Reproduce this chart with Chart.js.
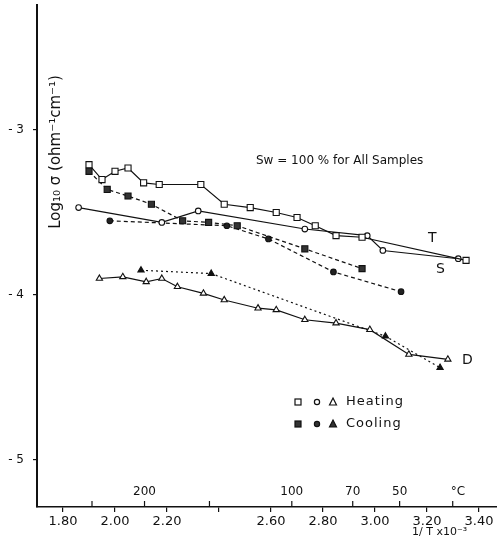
<!DOCTYPE html>
<html>
<head>
<meta charset="utf-8">
<script src="https://cdn.jsdelivr.net/npm/chart.js@4.4.0/dist/chart.umd.min.js"></script>
<style>
  html, body { margin: 0; padding: 0; background: #fff; }
  #wrap { width: 497px; height: 542px; }
</style>
</head>
<body>
<div id="wrap"><canvas id="chart" width="497" height="542"></canvas></div>
<script>
// 1/T x10^-3 (K^-1) and log10 sigma
var tHeatX = [1.90, 1.95, 2.00, 2.05, 2.11, 2.17, 2.33, 2.42, 2.52, 2.62, 2.70, 2.77, 2.85, 2.95, 3.35];
var tHeatY = [-3.21, -3.30, -3.25, -3.23, -3.32, -3.33, -3.33, -3.45, -3.47, -3.50, -3.53, -3.58, -3.64, -3.65, -3.79];

var sHeatX = [1.86, 2.18, 2.32, 2.73, 2.97, 3.03, 3.32];
var sHeatY = [-3.47, -3.56, -3.49, -3.60, -3.64, -3.73, -3.78];

var dHeatX = [1.94, 2.03, 2.12, 2.18, 2.24, 2.34, 2.42, 2.55, 2.62, 2.73, 2.85, 2.98, 3.13, 3.28];
var dHeatY = [-3.90, -3.89, -3.92, -3.90, -3.95, -3.99, -4.03, -4.08, -4.09, -4.15, -4.17, -4.21, -4.36, -4.39];

var tCoolX = [1.90, 1.97, 2.05, 2.14, 2.26, 2.36, 2.47, 2.73, 2.95];
var tCoolY = [-3.25, -3.36, -3.40, -3.45, -3.55, -3.56, -3.58, -3.72, -3.84];

var sCoolX = [1.98, 2.43, 2.59, 2.84, 3.10];
var sCoolY = [-3.55, -3.58, -3.66, -3.86, -3.98];

var dCoolX = [2.10, 2.37, 3.04, 3.25];
var dCoolY = [-3.85, -3.87, -4.25, -4.44];

var xTicks = [1.8, 2.0, 2.2, 2.4, 2.6, 2.8, 3.0, 3.2, 3.4];
var yTicks = [-5, -4, -3];
var tempTicks = [250, 200, 150, 100, 70, 50, 30];   // deg C marks above the axis
var tempLabels = ['', '200', '', '100', '70', '50', ''];

var FONT = '"DejaVu Sans", sans-serif';
var INK = '#111';

function pts(xs, ys) {
    return xs.map(function (x, i) { return { x: x, y: ys[i] }; });
}

function series(xs, ys, style, fill, radius, dash) {
    return {
        data: pts(xs, ys),
        showLine: true,
        borderColor: INK,
        borderWidth: 1.2,
        borderDash: dash,
        pointStyle: style,
        pointRadius: radius,
        pointBackgroundColor: fill,
        pointBorderColor: INK,
        pointBorderWidth: 1.1,
        tension: 0
    };
}

var notes = {
    id: 'notes',
    afterDraw: function (chart) {
        var ctx = chart.ctx;
        var xs = chart.scales.x;
        var bottom = chart.chartArea.bottom;
        ctx.save();
        ctx.fillStyle = INK;
        ctx.strokeStyle = INK;
        ctx.lineWidth = 1.2;

        // temperature scale sitting on top of the x axis
        ctx.font = '12px ' + FONT;
        ctx.textAlign = 'center';
        ctx.textBaseline = 'middle';
        tempTicks.forEach(function (t, i) {
            var px = xs.getPixelForValue(1000 / (t + 273.15));
            ctx.beginPath();
            ctx.moveTo(px, bottom);
            ctx.lineTo(px, bottom - 6);
            ctx.stroke();
            if (tempLabels[i]) ctx.fillText(tempLabels[i], px, bottom - 15);
        });
        ctx.fillText('°C', 458, bottom - 15);

        // x axis title
        ctx.textAlign = 'left';
        ctx.font = '11px ' + FONT;
        ctx.fillText('1/ T x10⁻³', 412, 532);

        // y axis title
        ctx.save();
        ctx.translate(56, 152);
        ctx.rotate(-Math.PI / 2);
        ctx.textAlign = 'center';
        ctx.font = '15px ' + FONT;
        ctx.fillText('Log₁₀ σ (ohm⁻¹cm⁻¹)', 0, 0);
        ctx.restore();

        ctx.font = '12px ' + FONT;
        ctx.textAlign = 'left';
        ctx.fillText('Sw = 100 % for All Samples', 256, 161);

        ctx.font = '14px ' + FONT;
        ctx.fillText('T', 428, 238);
        ctx.fillText('S', 436, 269);
        ctx.fillText('D', 462, 360);

        // legend
        ctx.font = '13px ' + FONT;
        ctx.letterSpacing = '1px';
        ctx.fillText('Heating', 346, 402);
        ctx.fillText('Cooling', 346, 424);
        ctx.letterSpacing = '0px';
        var rows = [[402, '#fff'], [424, '#333']];
        rows.forEach(function (r) {
            var y = r[0];
            ctx.fillStyle = r[1];
            ctx.fillRect(295, y - 3, 6, 6);
            ctx.strokeRect(295, y - 3, 6, 6);
            ctx.beginPath();
            ctx.arc(317, y, 2.6, 0, Math.PI * 2);
            ctx.fill();
            ctx.stroke();
            ctx.beginPath();
            ctx.moveTo(333, y - 4);
            ctx.lineTo(336.5, y + 3);
            ctx.lineTo(329.5, y + 3);
            ctx.closePath();
            ctx.fill();
            ctx.stroke();
        });
        ctx.restore();
    }
};

var ctx = document.getElementById('chart').getContext('2d');
new Chart(ctx, {
    type: 'scatter',
    data: {
        datasets: [
            series(tHeatX, tHeatY, 'rect', '#fff', 4.3, []),
            series(sHeatX, sHeatY, 'circle', '#fff', 2.8, []),
            series(dHeatX, dHeatY, 'triangle', '#fff', 3.6, []),
            series(tCoolX, tCoolY, 'rect', '#333', 4.3, [4, 3]),
            series(sCoolX, sCoolY, 'circle', '#222', 2.8, [4, 3]),
            series(dCoolX, dCoolY, 'triangle', '#111', 3.6, [2, 3])
        ]
    },
    options: {
        responsive: false,
        animation: false,
        layout: { autoPadding: false, padding: { top: 5, right: 0, left: 0, bottom: 0 } },
        plugins: {
            legend: { display: false },
            tooltip: { enabled: false }
        },
        scales: {
            x: {
                type: 'linear',
                min: 1.70,
                max: 3.469,
                afterBuildTicks: function (s) {
                    s.ticks = xTicks.map(function (v) { return { value: v }; });
                },
                afterFit: function (s) {
                    s.height = 35;
                    s.paddingLeft = 0;
                    s.paddingRight = 0;
                },
                border: { color: INK, width: 1.5 },
                grid: { drawOnChartArea: false, color: INK, tickLength: 5, lineWidth: 1.2 },
                ticks: {
                    color: INK,
                    font: { family: FONT, size: 13 },
                    padding: 2,
                    maxRotation: 0,
                    autoSkip: false,
                    callback: function (v) {
                        return Math.abs(v - 2.4) < 1e-6 ? '' : v.toFixed(2);
                    }
                }
            },
            y: {
                type: 'linear',
                min: -5.285,
                max: -2.242,
                afterBuildTicks: function (s) {
                    s.ticks = yTicks.map(function (v) { return { value: v }; });
                },
                afterFit: function (s) {
                    s.width = 37;
                    s.paddingTop = 0;
                    s.paddingBottom = 0;
                },
                border: { color: INK, width: 2 },
                grid: { drawOnChartArea: false, color: INK, tickLength: 4, lineWidth: 1.2 },
                ticks: {
                    color: INK,
                    font: { family: FONT, size: 12 },
                    padding: 9,
                    callback: function (v) { return '- ' + Math.abs(v); }
                }
            }
        }
    },
    plugins: [notes]
});
</script>
</body>
</html>
